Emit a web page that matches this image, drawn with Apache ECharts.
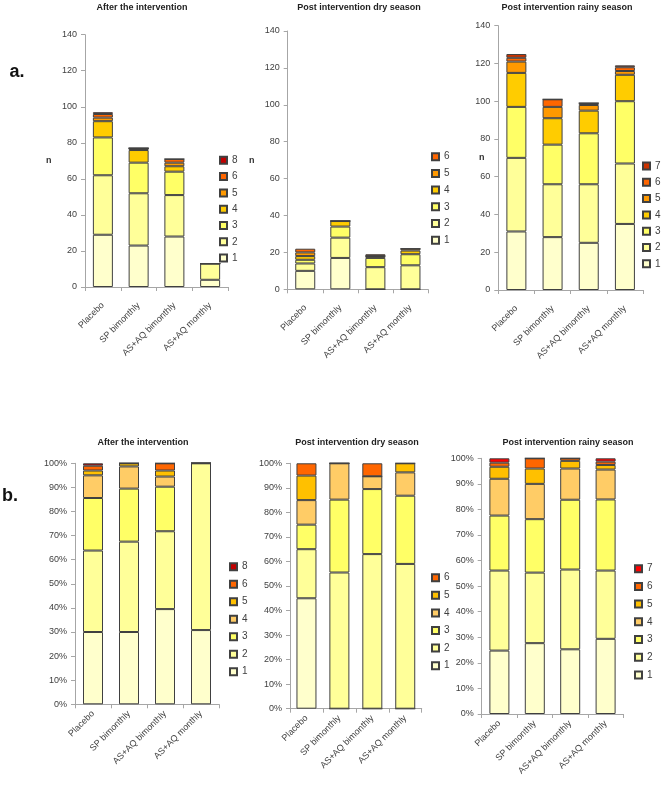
<!DOCTYPE html>
<html><head><meta charset="utf-8">
<script src="https://cdn.jsdelivr.net/npm/echarts@6/dist/echarts.min.js"></script>
<style>html,body{margin:0;padding:0;background:#fff}#c{width:661px;height:785px}</style>
</head><body><div id="c"></div>
<script>
// ---------- data ----------
const categories = ['Placebo', 'SP bimonthly', 'AS+AQ bimonthly', 'AS+AQ monthly'];

// a. counts (n) – rows follow the level lists
const afterLevels = ['1', '2', '3', '4', '5', '6', '8'];
const afterCounts = [
  [29, 23, 28, 4],
  [33, 29, 23, 9],
  [21, 17, 13, 0],
  [9, 7, 3, 0],
  [2, 1, 2, 0],
  [2, 0, 2, 0],
  [1, 0, 0, 0]
];
const afterN = ['(579)', '(541)', '(476)', '(573)'];

const dryLevels = ['1', '2', '3', '4', '5', '6'];
const dryCounts = [
  [10, 17, 0, 0],
  [4, 11, 12, 13],
  [2, 6, 5, 6],
  [2, 3, 1, 2],
  [2, 0, 0, 1],
  [2, 0, 1, 0]
];
const dryN = ['(476)', '(436)', '(400)', '(456)'];

const rainyLevels = ['1', '2', '3', '4', '5', '6', '7'];
const rainyCounts = [
  [31, 28, 25, 35],
  [39, 28, 31, 32],
  [27, 21, 27, 33],
  [18, 14, 12, 14],
  [6, 6, 3, 2],
  [2, 4, 1, 2],
  [2, 0, 0, 1]
];
const rainyN = ['(434)', '(392)', '(357)', '(419)'];

// b. percentages of each level
const afterPct = [
  [30, 30, 39.5, 30.8],
  [33.8, 37.5, 32.3, 69.2],
  [21.8, 22, 18.5, 0],
  [9.4, 9.2, 4.2, 0],
  [2, 1.3, 2.5, 0],
  [2, 0, 3, 0],
  [1, 0, 0, 0]
];
const dryPct = [
  [45, 0, 0, 0],
  [20, 55.5, 63, 59],
  [10, 29.7, 26.5, 27.8],
  [10, 14.8, 5.2, 9.5],
  [10, 0, 0, 3.7],
  [5, 0, 5.3, 0]
];
const rainyPct = [
  [24.8, 27.7, 25.3, 29.4],
  [31.3, 27.6, 31.2, 26.7],
  [21.5, 20.9, 27.3, 27.8],
  [14.4, 13.8, 12.2, 11.7],
  [4.7, 6, 3, 1.8],
  [1.6, 4, 1, 1.3],
  [1.7, 0, 0, 1.3]
];

const countMax = 140, countStep = 20;
const pctMax = 100, pctStep = 10;

// ---------- styles ----------
const countColors = {'1':'#FFFFCC','2':'#FFFF99','3':'#FFFF66','4':'#FFCC00','5':'#FF9900','6':'#FF6600','7':'#CC3300','8':'#C00000'};
const pctColors   = {'1':'#FFFFCC','2':'#FFFF99','3':'#FFFF66','4':'#FFCC66','5':'#FFC000','6':'#FF6600','7':'#FF0000','8':'#C00000'};
const txt = '#404040', axisCol = '#a6a6a6', edge = '#404040';
const ff = 'Liberation Sans, Arial';

const panels = [
  {id:'a1', levels:afterLevels, data:afterCounts, colors:countColors, n:afterN, pct:false, xm:17,
   grid:{left:85, top:34.7, width:143, height:252.3}, title:'After the intervention', tx:142, ty:8,
   lg:{left:219, top:155.3, gap:6.3}, nx:49, ny:162},
  {id:'a2', levels:dryLevels, data:dryCounts, colors:countColors, n:dryN, pct:false, xm:17,
   grid:{left:287.7, top:31, width:140.3, height:258.3}, title:'Post intervention dry season', tx:359, ty:8,
   lg:{left:431, top:151.7, gap:6.7}, nx:252, ny:162},
  {id:'a3', levels:rainyLevels, data:rainyCounts, colors:countColors, n:rainyN, pct:false, xm:17,
   grid:{left:498.3, top:25.7, width:144.7, height:264.3}, title:'Post intervention rainy season', tx:567, ty:8,
   lg:{left:642, top:161, gap:6.3}, nx:482, ny:159},
  {id:'b1', levels:afterLevels, data:afterPct, colors:pctColors, pct:true, xm:8,
   grid:{left:75, top:463.3, width:144, height:241}, title:'After the intervention', tx:143, ty:443,
   lg:{left:229, top:561.7, gap:7.5}},
  {id:'b2', levels:dryLevels, data:dryPct, colors:pctColors, pct:true, xm:8,
   grid:{left:290, top:463.3, width:131.7, height:245.4}, title:'Post intervention dry season', tx:357, ty:443,
   lg:{left:431, top:572.7, gap:7.6}},
  {id:'b3', levels:rainyLevels, data:rainyPct, colors:pctColors, pct:true, xm:8,
   grid:{left:481.7, top:458.3, width:141.6, height:255.7}, title:'Post intervention rainy season', tx:568, ty:443,
   lg:{left:634, top:563.7, gap:7.7}}
];

const grid = [], xAxis = [], yAxis = [], series = [], legend = [], graphic = [];
panels.forEach((p, k) => {
  grid.push(Object.assign({containLabel:false}, p.grid));
  xAxis.push({type:'category', gridIndex:k, data:categories,
    axisLine:{show:true, lineStyle:{color:axisCol}},
    axisTick:{show:true, length:4, lineStyle:{color:axisCol}},
    axisLabel:{rotate:45, interval:0, fontSize:9, color:txt, margin:p.xm, fontFamily:ff}});
  yAxis.push({type:'value', gridIndex:k, min:0, max:p.pct ? pctMax : countMax, interval:p.pct ? pctStep : countStep,
    axisLine:{show:true, lineStyle:{color:axisCol}},
    axisTick:{show:true, length:4, lineStyle:{color:axisCol}},
    splitLine:{show:false},
    axisLabel:{fontSize:9, color:txt, margin:8, fontFamily:ff, formatter:p.pct ? '{value}%' : '{value}'}});
  const names = [];
  p.levels.forEach((lv, i) => {
    const nm = p.id + '-' + lv;
    names.push(nm);
    series.push({type:'bar', name:nm, xAxisIndex:k, yAxisIndex:k, stack:p.id, data:p.data[i],
      barWidth:20, itemStyle:{color:p.colors[lv], borderColor:edge, borderWidth:1}, emphasis:{disabled:true}});
  });
  if (p.n) {
    const totals = categories.map((c, j) => p.data.reduce((s, row) => s + row[j], 0));
    series.push({type:'scatter', name:p.id + '-n', xAxisIndex:k, yAxisIndex:k, data:totals,
      symbol:'circle', symbolSize:1, itemStyle:{opacity:0}, silent:true, z:5,
      label:{show:true, position:'top', distance:4, fontSize:9, color:txt, fontFamily:ff,
        formatter:(q) => p.n[q.dataIndex]}});
    graphic.push({type:'text', left:p.nx - 3, top:p.ny - 6, style:{text:'n', font:'bold 9px ' + ff, fill:'#333'}});
  }
  legend.push({orient:'vertical', left:p.lg.left, top:p.lg.top, padding:0, itemWidth:7, itemHeight:7, itemGap:p.lg.gap,
    selectedMode:false, icon:'rect', data:names.slice().reverse(),
    formatter:(name) => name.split('-')[1],
    textStyle:{fontSize:10, color:txt, lineHeight:10, fontFamily:ff}});
  graphic.push({type:'text', x:p.tx, y:p.ty, style:{text:p.title, font:'bold 9px ' + ff, fill:'#222', textAlign:'center', textVerticalAlign:'middle'}});
});
graphic.push({type:'text', x:17, y:72, style:{text:'a.', font:'bold 18px ' + ff, fill:'#111', textAlign:'center', textVerticalAlign:'middle'}});
graphic.push({type:'text', x:10, y:496, style:{text:'b.', font:'bold 18px ' + ff, fill:'#111', textAlign:'center', textVerticalAlign:'middle'}});

const chart = echarts.init(document.getElementById('c'), null, {renderer:'canvas'});
chart.setOption({animation:false, backgroundColor:'#fff', grid, xAxis, yAxis, series, legend, graphic});
</script></body></html>
